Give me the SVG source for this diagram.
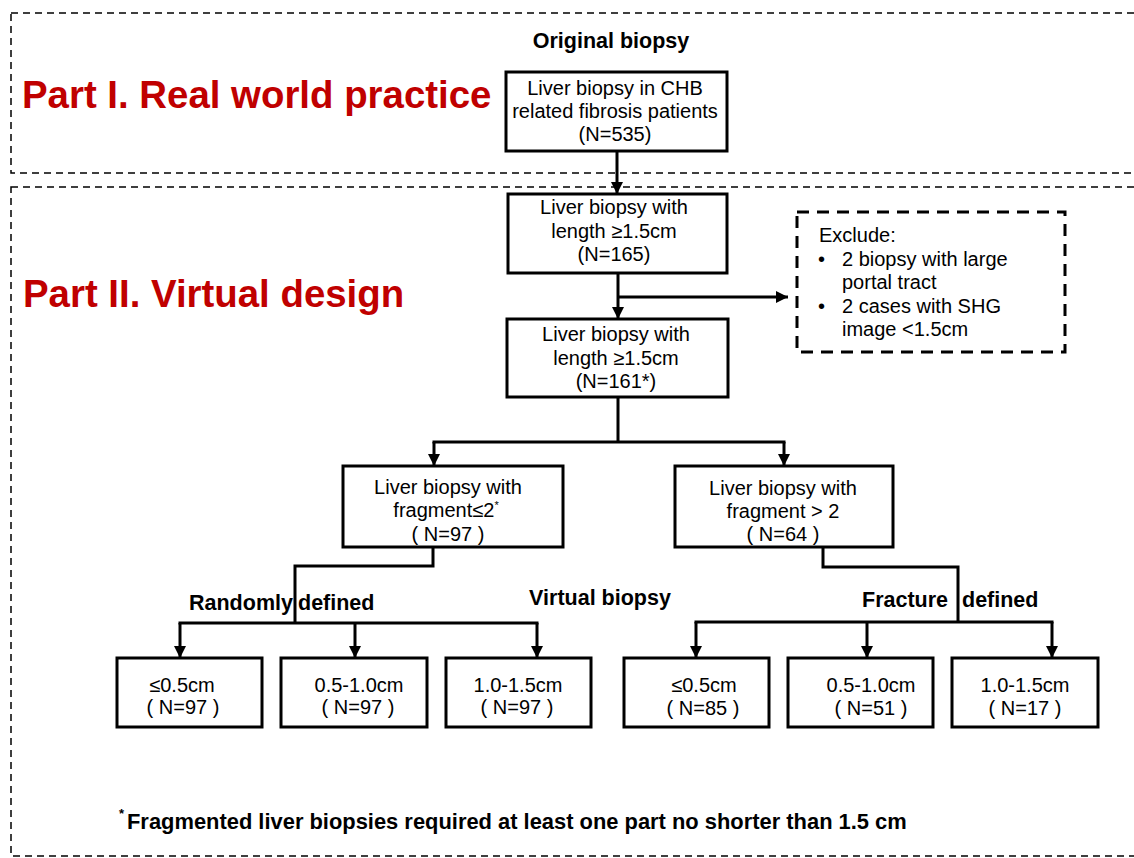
<svg xmlns="http://www.w3.org/2000/svg" width="1134" height="858" viewBox="0 0 1134 858">
<defs>
<style>
text{font-family:"Liberation Sans",Arial,sans-serif;fill:#000}
.t{font-size:20px;text-anchor:middle}
.tl{font-size:20px}
.b{font-size:21.5px;font-weight:bold}
.part{font-size:38.4px;font-weight:bold;fill:#C00000}
.box{fill:#fff;stroke:#000;stroke-width:3}
.sec{fill:none;stroke:#000;stroke-width:1.5;stroke-dasharray:7 5}
.exc{fill:#fff;stroke:#000;stroke-width:3;stroke-dasharray:12 8}
.ln{fill:none;stroke:#000;stroke-width:3}
.ar{fill:none;stroke:#000;stroke-width:3;marker-end:url(#ah)}
</style>
<marker id="ah" markerUnits="userSpaceOnUse" markerWidth="12" markerHeight="12" refX="12" refY="6" orient="auto" viewBox="0 0 12 12">
<path d="M0,0 L12,6 L0,12 z" fill="#000"/>
</marker>
</defs>
<rect width="1134" height="858" fill="#fff"/>

<g id="sections">
<rect class="sec" x="11" y="13" width="1140" height="160"/>
<rect class="sec" x="11" y="187" width="1140" height="669"/>
<text class="part" x="22" y="108">Part I. Real world practice</text>
<text class="part" x="23" y="307">Part II. Virtual design</text>
<text class="b" x="611" y="48" text-anchor="middle">Original biopsy</text>
<text class="b" x="189" y="610">Randomly</text>
<text class="b" x="298" y="610">defined</text>
<text class="b" x="600" y="605" text-anchor="middle">Virtual biopsy</text>
<text class="b" x="862" y="607">Fracture</text>
<text class="b" x="962" y="607">defined</text>
<text x="119" y="818" font-size="13" font-weight="bold">*</text>
<text x="127" y="829" font-size="21.9" font-weight="bold">Fragmented liver biopsies required at least one part no shorter than 1.5 cm</text>
</g>

<g id="connectors">
<path class="ar" d="M617,151 V194"/>
<path class="ar" d="M618,273 V319"/>
<path class="ar" d="M618,297 H788"/>
<path class="ln" d="M618,397 V442 M432.5,442 H785.5"/>
<path class="ar" d="M434,442 V466"/>
<path class="ar" d="M784,442 V466"/>
<path class="ln" d="M433,547 V566 H295 V623 M178.5,623 H538.5"/>
<path class="ar" d="M180,623 V658"/>
<path class="ar" d="M355,623 V658"/>
<path class="ar" d="M537,623 V658"/>
<path class="ln" d="M823,547 V567 H958 V622 M694.5,622 H1053.5"/>
<path class="ar" d="M696,622 V658"/>
<path class="ar" d="M867,622 V658"/>
<path class="ar" d="M1052,622 V658"/>
</g>

<g id="n1">
<rect class="box" x="506" y="72" width="221" height="79"/>
<text class="t" x="615" y="95">Liver biopsy in CHB</text>
<text class="t" x="615" y="118">related fibrosis patients</text>
<text class="t" x="615" y="141">(N=535)</text>
</g>
<g id="n2">
<rect class="box" x="508" y="194" width="219" height="79"/>
<text class="t" x="614" y="214">Liver biopsy with</text>
<text class="t" x="614" y="238">length ≥1.5cm</text>
<text class="t" x="614" y="261">(N=165)</text>
</g>
<g id="exclude">
<rect class="exc" x="797" y="212" width="268" height="140"/>
<text class="tl" x="819" y="242">Exclude:</text>
<text class="tl" x="818" y="266">•</text>
<text class="tl" x="842" y="266">2 biopsy with large</text>
<text class="tl" x="842" y="289">portal tract</text>
<text class="tl" x="818" y="313">•</text>
<text class="tl" x="842" y="313">2 cases with SHG</text>
<text class="tl" x="842" y="336">image &lt;1.5cm</text>
</g>
<g id="n3">
<rect class="box" x="507" y="319" width="221" height="78"/>
<text class="t" x="616" y="341">Liver biopsy with</text>
<text class="t" x="616" y="365">length ≥1.5cm</text>
<text class="t" x="616" y="388">(N=161*)</text>
</g>
<g id="n4">
<rect class="box" x="343" y="466" width="220" height="81"/>
<text class="t" x="448" y="494">Liver biopsy with</text>
<text class="t" x="446" y="517">fragment≤2<tspan font-size="11" dy="-8">*</tspan></text>
<text class="t" x="448" y="541">( N=97 )</text>
</g>
<g id="n5">
<rect class="box" x="675" y="466" width="218" height="81"/>
<text class="t" x="783" y="495">Liver biopsy with</text>
<text class="t" x="783" y="518">fragment &gt; 2</text>
<text class="t" x="783" y="541">( N=64 )</text>
</g>
<g id="n6">
<rect class="box" x="117" y="658" width="145" height="69"/>
<text class="t" x="182" y="692">≤0.5cm</text>
<text class="t" x="183" y="714">( N=97 )</text>
</g>
<g id="n7">
<rect class="box" x="281" y="658" width="146" height="69"/>
<text class="t" x="359" y="692">0.5-1.0cm</text>
<text class="t" x="358" y="714">( N=97 )</text>
</g>
<g id="n8">
<rect class="box" x="446" y="658" width="145" height="69"/>
<text class="t" x="518" y="692">1.0-1.5cm</text>
<text class="t" x="517" y="714">( N=97 )</text>
</g>
<g id="n9">
<rect class="box" x="624" y="658" width="145" height="69"/>
<text class="t" x="704" y="692">≤0.5cm</text>
<text class="t" x="703" y="715">( N=85 )</text>
</g>
<g id="n10">
<rect class="box" x="788" y="658" width="145" height="69"/>
<text class="t" x="871" y="692">0.5-1.0cm</text>
<text class="t" x="871" y="715">( N=51 )</text>
</g>
<g id="n11">
<rect class="box" x="952" y="658" width="146" height="69"/>
<text class="t" x="1025" y="692">1.0-1.5cm</text>
<text class="t" x="1025" y="715">( N=17 )</text>
</g>
</svg>
